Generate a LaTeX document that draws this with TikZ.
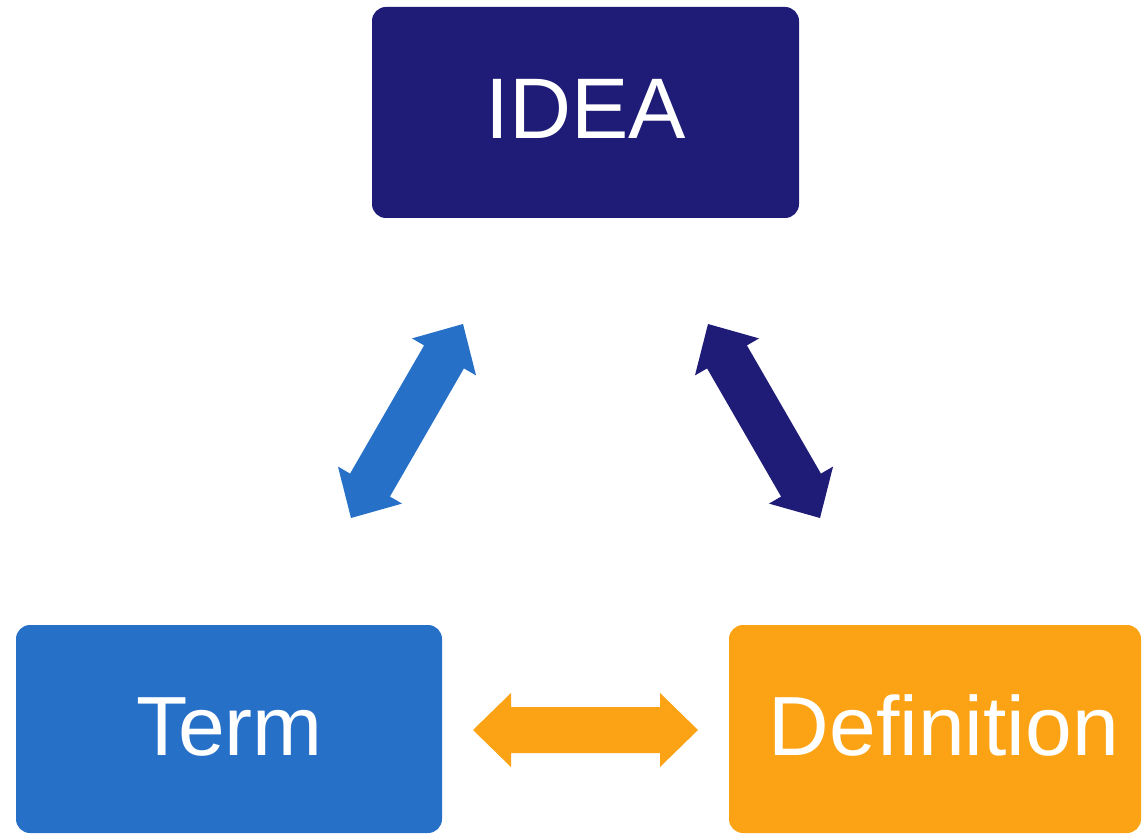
\documentclass[tikz,border=0pt]{standalone}
\usepackage{fontspec}
\setmainfont{Liberation Sans}
\usetikzlibrary{calc}
\definecolor{navy}{HTML}{1F1C77}
\definecolor{blueT}{HTML}{2670C8}
\definecolor{orangeD}{HTML}{FBA314}
\newcommand\dblarrow[3]{%
  \path (#2) coordinate (ta) (#3) coordinate (tb)
        ($(ta)!38pt!(tb)$) coordinate (pa) ($(tb)!38pt!(ta)$) coordinate (pb);
  \fill[#1] (ta) -- ($(pa)!37pt!90:(tb)$) -- ($(pa)!23pt!90:(tb)$)
     -- ($(pb)!23pt!-90:(ta)$) -- ($(pb)!37pt!-90:(ta)$) -- (tb)
     -- ($(pb)!37pt!90:(ta)$) -- ($(pb)!23pt!90:(ta)$)
     -- ($(pa)!23pt!-90:(tb)$) -- ($(pa)!37pt!-90:(tb)$) -- cycle;}
\begin{document}
\begin{tikzpicture}[x=1pt,y=-1pt,
  box/.style={rectangle, rounded corners=14pt, inner sep=0pt, draw=none},
  lbl/.style={text=white, anchor=base, inner sep=0pt},
  big/.style={font=\fontsize{86}{86}\selectfont},
  mid/.style={font=\fontsize{84}{84}\selectfont}]
\useasboundingbox (0,0) rectangle (1142,834);
\node[box, fill=navy, minimum width=427pt, minimum height=211pt] (idea) at (585.5,112.5) {};
\node[box, fill=blueT, minimum width=426pt, minimum height=208pt] (term) at (229,729) {};
\node[box, fill=orangeD, minimum width=412pt, minimum height=208pt] (def) at (935,729) {};
\node[lbl, big] (ideatxt) at (585.5,139) {IDEA};
\node[lbl, mid] (termtxt) at (229.5,755) {Term};
\node[lbl, mid] (deftxt) at (944,755) {Definition};
\coordinate (b1) at (463,324); \coordinate (b2) at (351,518);
\coordinate (n1) at (708,324); \coordinate (n2) at (820,518);
\coordinate (o1) at (473,730); \coordinate (o2) at (698,730);
\dblarrow{blueT}{b1}{b2}
\dblarrow{navy}{n1}{n2}
\dblarrow{orangeD}{o1}{o2}
\end{tikzpicture}
\end{document}
